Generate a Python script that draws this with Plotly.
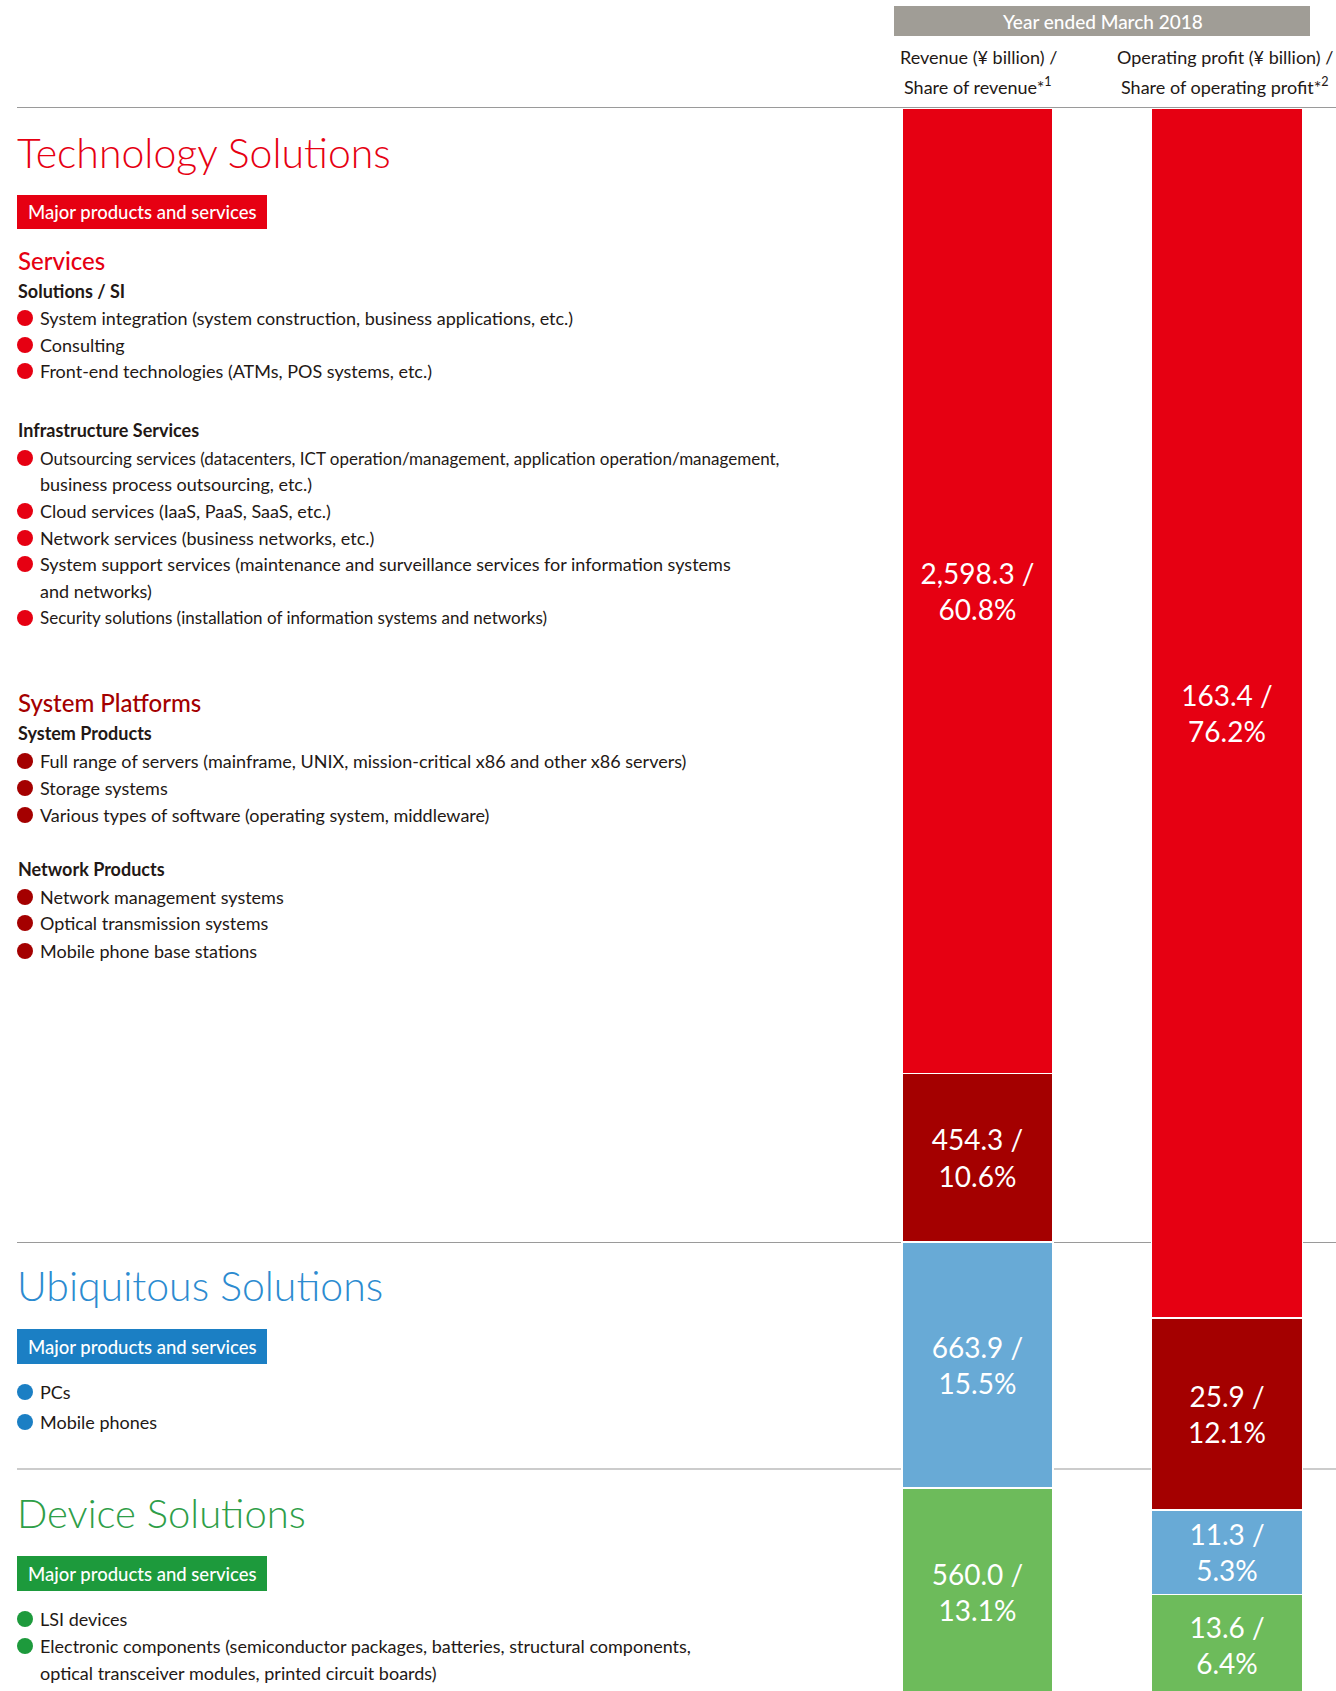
import plotly.graph_objects as go

W, H = 1336, 1691

# ---------------- data ----------------
measures = ["Revenue", "Operating profit"]
segments = ["Technology Solutions: Services", "Technology Solutions: System Platforms",
            "Ubiquitous Solutions", "Device Solutions"]
revenue = [2598.3, 454.3, 663.9, 560.0]          # ¥ billion
revenue_share = [60.8, 10.6, 15.5, 13.1]         # %
op_profit = [163.4, 25.9, 11.3, 13.6]            # ¥ billion
op_profit_share = [76.2, 12.1, 5.3, 6.4]         # %

header_title = "Year ended March 2018"
col_titles = [["Revenue (¥ billion) /", "Share of revenue*<sup>1</sup>"],
              ["Operating profit (¥ billion) /", "Share of operating profit*<sup>2</sup>"]]

ts_services_solutions = ["System integration (system construction, business applications, etc.)",
                         "Consulting",
                         "Front-end technologies (ATMs, POS systems, etc.)"]
ts_services_infra = [["Outsourcing services (datacenters, ICT operation/management, application operation/management,",
                      "business process outsourcing, etc.)"],
                     ["Cloud services (IaaS, PaaS, SaaS, etc.)"],
                     ["Network services (business networks, etc.)"],
                     ["System support services (maintenance and surveillance services for information systems",
                      "and networks)"],
                     ["Security solutions (installation of information systems and networks)"]]
ts_platform_system = ["Full range of servers (mainframe, UNIX, mission-critical x86 and other x86 servers)",
                      "Storage systems",
                      "Various types of software (operating system, middleware)"]
ts_platform_network = ["Network management systems",
                       "Optical transmission systems",
                       "Mobile phone base stations"]
us_items = ["PCs", "Mobile phones"]
ds_items = [["LSI devices"],
            ["Electronic components (semiconductor packages, batteries, structural components,",
             "optical transceiver modules, printed circuit boards)"]]

# ---------------- styles ----------------
RED, DKRED = "#E60012", "#A40000"
BLUE_BAR, GREEN_BAR = "#68AAD6", "#6DBB5B"
BLUE, GREEN = "#1B7FC4", "#1D9A3C"
BLUE_T, GREEN_T = "#2C8BD0", "#2E9E48"
GRAY = "#A09D96"
INK = "#231815"
seg_colors = [RED, DKRED, BLUE_BAR, GREEN_BAR]
FONT = "Lato, 'Noto Sans', sans-serif"
BODY = 18
# per-line size tweaks (the original sets some lines tighter)
tight = {"Outsourcing services (datacenters, ICT operation/management, application operation/management,": 17,
         "Security solutions (installation of information systems and networks)": 17}


def X(p):
    return p / W


def Y(p):
    return 1 - p / H


fig = go.Figure()

for i in range(len(segments)):
    fig.add_trace(go.Bar(
        x=measures,
        y=[revenue_share[i], op_profit_share[i]],
        name=segments[i],
        text=[f"{revenue[i]:,.1f} /<br>{revenue_share[i]:.1f}%",
              f"{op_profit[i]:,.1f} /<br>{op_profit_share[i]:.1f}%"],
        textposition="inside", insidetextanchor="middle", textangle=0,
        constraintext="none",
        textfont=dict(color="white", size=28, family=FONT),
        marker=dict(color=seg_colors[i], line=dict(color="white", width=1.5)),
        width=0.605, hoverinfo="skip", showlegend=False,
    ))

# axis geometry (pixel placement of the two columns)
c0, c1 = 977.5, 1227.0
unit = c1 - c0
x_left = 802
xr = [(x_left - c0) / unit, (W - c0) / unit]
bar_top, bar_full = 108, 1588
y_max = 100 * (H - bar_top) / bar_full

ann = []
shapes = []


def text(x, y, s, size=BODY, color=INK, weight=400, xanchor="left"):
    ann.append(dict(x=X(x), y=Y(y), xref="paper", yref="paper", text=s, showarrow=False,
                    xanchor=xanchor, yanchor="middle", align=xanchor if xanchor != "center" else "center",
                    font=dict(size=size, color=color, family=FONT, weight=weight)))


def rect(x0, y0, x1, y1, color):
    shapes.append(dict(type="rect", xref="paper", yref="paper", x0=X(x0), x1=X(x1), y0=Y(y1), y1=Y(y0),
                       fillcolor=color, line=dict(width=0), layer="below"))


def hline(y):
    shapes.append(dict(type="line", xref="paper", yref="paper", x0=X(17), x1=1, y0=Y(y), y1=Y(y),
                       line=dict(color="#9A9A9A", width=1.2), layer="below"))


def bullet(y, color):
    shapes.append(dict(type="circle", xref="paper", yref="paper", x0=X(17), x1=X(33),
                       y0=Y(y + 8), y1=Y(y - 8), fillcolor=color, line=dict(width=0), layer="above"))


def box(y0, y1, color):
    rect(17, y0, 267, y1, color)
    text(142, (y0 + y1) / 2, "Major products and services", size=18.5, color="white", weight=500,
         xanchor="center")


def item(x, y, s):
    text(x, y, s, size=tight.get(s, BODY))


# header
rect(894, 6, 1310, 36, GRAY)
text((894 + 1310) / 2, 21, header_title, size=19, color="white", weight=500, xanchor="center")
for cx, (l1, l2) in zip([978, 1225], col_titles):
    text(cx, 57, l1, size=18, xanchor="center")
    text(cx, 86, l2, size=18, xanchor="center")

hline(107.5)
hline(1242.5)
hline(1469)

# Technology Solutions
text(15, 152, "Technology Solutions", size=41, color=RED, weight=300)
box(195, 229, RED)
text(16, 261, "Services", size=24, color=RED, weight=500)
text(16, 291, "Solutions / SI", size=18, weight=700)
for yy, s in zip([318, 345, 371], ts_services_solutions):
    bullet(yy, RED)
    item(38, yy, s)
text(16, 430, "Infrastructure Services", size=18, weight=700)
for yy, lines in zip([458, 511, 538, 564, 618], ts_services_infra):
    bullet(yy, RED)
    for k, s in enumerate(lines):
        item(38, yy + 26.5 * k, s)

text(16, 702, "System Platforms", size=24, color=DKRED, weight=500)
text(16, 733, "System Products", size=18, weight=700)
for yy, s in zip([761, 788, 815], ts_platform_system):
    bullet(yy, DKRED)
    item(38, yy, s)
text(16, 869, "Network Products", size=18, weight=700)
for yy, s in zip([897, 923, 951], ts_platform_network):
    bullet(yy, DKRED)
    item(38, yy, s)

# Ubiquitous Solutions
text(15, 1285, "Ubiquitous Solutions", size=41, color=BLUE_T, weight=300)
box(1329, 1364, BLUE)
for yy, s in zip([1392, 1422], us_items):
    bullet(yy, BLUE)
    item(38, yy, s)

# Device Solutions
text(15, 1513, "Device Solutions", size=40, color=GREEN_T, weight=300)
box(1556, 1591, GREEN)
for yy, lines in zip([1619, 1646], ds_items):
    bullet(yy, GREEN)
    for k, s in enumerate(lines):
        item(38, yy + 27 * k, s)

fig.update_layout(
    width=W, height=H, margin=dict(l=0, r=0, t=0, b=0),
    paper_bgcolor="white", plot_bgcolor="rgba(0,0,0,0)",
    barmode="stack", showlegend=False,
    xaxis=dict(domain=[X(x_left), 1], type="category", range=xr, visible=False, fixedrange=True),
    yaxis=dict(domain=[0, Y(bar_top)], range=[y_max, 0], visible=False, fixedrange=True),
    annotations=ann, shapes=shapes,
    font=dict(family=FONT, color=INK),
)

fig.write_html("out.html", config={"displayModeBar": False, "staticPlot": True})
